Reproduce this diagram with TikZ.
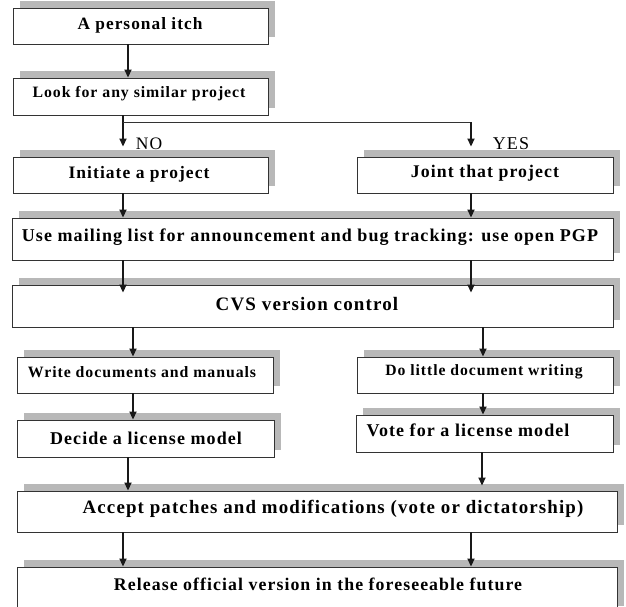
\documentclass[tikz,border=0pt]{standalone}
\usepackage{fontspec}
\setmainfont{Liberation Serif}
\newfontfamily\rf[LetterSpace=6]{Liberation Serif}
\usetikzlibrary{arrows.meta,shadows}
\tikzset{
  box/.style={draw=black!80, line width=0.9pt, fill=white, rectangle, inner sep=0pt,
    drop shadow={shadow xshift=7pt, shadow yshift=7pt, fill=black!28, opacity=1}},
  txt/.style={inner sep=0pt, font=\rf\bfseries},
  arr/.style={line width=1.7pt, draw=black!90, -{Triangle[width=7pt,length=8pt]}},
  thinline/.style={line width=0.9pt, draw=black!80},
}
\newcommand{\fs}[1]{\rf\bfseries\fontsize{#1}{#1}\selectfont}
\begin{document}
\begin{tikzpicture}[x=1pt,y=-1pt]
\clip (0,0) rectangle (626,606);
\fill[white] (0,0) rectangle (626,606);
% boxes
\node[box, minimum width=255pt, minimum height=36pt] (itch) at (140.5,26) {};
\node[box, minimum width=255pt, minimum height=37pt] (look) at (140.5,96.5) {};
\node[box, minimum width=255pt, minimum height=36pt] (init) at (140.5,175) {};
\node[box, minimum width=256pt, minimum height=36pt] (joint) at (485,175) {};
\node[box, minimum width=601pt, minimum height=42pt] (mail) at (312.5,239) {};
\node[box, minimum width=601pt, minimum height=42pt] (cvs) at (312.5,306) {};
\node[box, minimum width=256pt, minimum height=36pt] (write) at (145,375) {};
\node[box, minimum width=256pt, minimum height=36pt] (dolittle) at (485,375) {};
\node[box, minimum width=257pt, minimum height=37pt] (decide) at (145.5,438.5) {};
\node[box, minimum width=257pt, minimum height=37pt] (vote) at (484.5,433.5) {};
\node[box, minimum width=600pt, minimum height=41pt] (accept) at (317,511.5) {};
\node[box, minimum width=600pt, minimum height=46pt] (release) at (317,590) {};
% texts
\node[txt, font=\fs{17.3}] at (140,25) {A personal itch};
\node[txt, font=\fs{15.8}] at (139,94) {Look for any similar project};
\node[txt, font=\fs{17.5}] at (139,174) {Initiate a project};
\node[txt, font=\fs{17.8}] at (485,173) {Joint that project};
\node[txt, font=\fs{18}] at (310,237) {Use mailing list for announcement and bug tracking: use open PGP};
\node[txt, font=\fs{19}] at (307,304) {CVS version control};
\node[txt, font=\fs{15.8}] at (142,372) {Write documents and manuals};
\node[txt, font=\fs{15.7}] at (484,372) {Do little document writing};
\node[txt, font=\fs{18}] at (146,438) {Decide a license model};
\node[txt, font=\fs{18}] at (468,430) {Vote for a license model};
\node[txt, font=\fs{18.9}] at (333,509) {Accept patches and modifications (vote or dictatorship)};
\node[txt, font=\fs{17.8}] at (318,584) {Release official version in the foreseeable future};
% connectors
\coordinate (br) at (123,122);
\coordinate (yc) at (471,122);
\draw[arr] (itch.south -| 128,0) -- (look.north -| 128,0);
\draw[arr, shorten >=10pt] (look.south -| 123,0) -- (init.north -| 123,0);
\draw[thinline] (br) -- (yc);
\draw[arr, shorten >=10pt] (yc) -- (joint.north -| 471,0);
\node[inner sep=0pt, font=\rf\fontsize{17.5}{17.5}\selectfont] (no) at (149,144) {NO};
\node[inner sep=0pt, font=\rf\fontsize{18}{18}\selectfont] (yes) at (511,144) {YES};
\draw[arr] (init.south -| 123,0) -- (mail.north -| 123,0);
\draw[arr] (joint.south -| 471,0) -- (mail.north -| 471,0);
\draw[arr, shorten >=-8pt] (mail.south -| 123,0) -- (cvs.north -| 123,0);
\draw[arr, shorten >=-8pt] (mail.south -| 471,0) -- (cvs.north -| 471,0);
\draw[arr] (cvs.south -| 133,0) -- (write.north -| 133,0);
\draw[arr] (cvs.south -| 483,0) -- (dolittle.north -| 483,0);
\draw[arr] (write.south -| 133,0) -- (decide.north -| 133,0);
\draw[arr] (dolittle.south -| 483,0) -- (vote.north -| 483,0);
\draw[arr] (decide.south -| 128,0) -- (accept.north -| 128,0);
\draw[arr, shorten >=5pt] (vote.south -| 482,0) -- (accept.north -| 482,0);
\draw[arr] (accept.south -| 123,0) -- (release.north -| 123,0);
\draw[arr] (accept.south -| 471,0) -- (release.north -| 471,0);
\end{tikzpicture}
\end{document}
